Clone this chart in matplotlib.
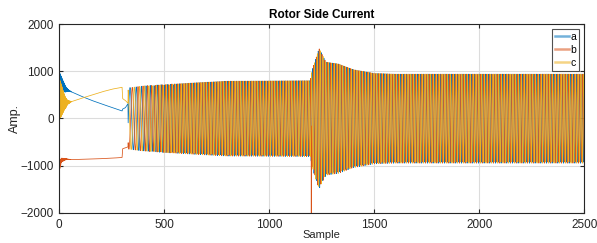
import numpy as np
import matplotlib
matplotlib.use("Agg")
import matplotlib.pyplot as plt
from matplotlib.lines import Line2D

plt.rcParams["font.family"] = ["Liberation Sans", "DejaVu Sans"]

# ---- values ----
N_SAMPLES = 2500
labels = ["a", "b", "c"]
colors = ["#0072BD", "#D95319", "#EDB120"]

# start-up (quasi-DC) part, before the rotor currents begin to oscillate
dc_n = [0, 1, 10, 30, 60, 100, 150, 200, 250, 299, 302, 315, 328]
dc_a = [-1000, 780, 720, 620, 560, 480, 390, 310, 235, 160, 200, 230, 320]
dc_b = [-1050, -1000, -880, -860, -870, -865, -860, -850, -840, -825, -640, -620, -600]
dc_c = [-300, 420, 380, 330, 360, 420, 490, 560, 620, 660, 420, 380, 320]

# high-frequency start-up ripple amplitude
ripple_n = [0, 10, 25, 40, 60]
ripple_a = [200, 160, 80, 20, 0]
ripple_b = [100, 40, 20, 5, 0]
ripple_c = [430, 330, 150, 40, 0]

# oscillating part: envelope (peak amplitude) and period in samples
osc_start = 328
env_n = [328, 400, 500, 650, 800, 1195, 1205, 1237, 1270, 1330, 1400, 1500, 1600, 2500]
env_amp = [650, 690, 720, 760, 795, 805, 1050, 1490, 1200, 1160, 1040, 960, 945, 945]
period_n = [328, 370, 420, 480, 560, 2500]
period_len = [34, 26, 20, 16, 13.5, 13.5]

# fault spike
fault_n = [1200]
fault_b = [-2000]

# ---- build the three phase traces ----
n = np.arange(N_SAMPLES + 1)
theta = np.cumsum(2 * np.pi / np.interp(n, period_n, period_len))
theta -= theta[337]
amp = np.interp(n, env_n, env_amp)
alt = np.where(n % 2 == 0, 1.0, -1.0)

traces = []
for k, (dc, rn) in enumerate([(dc_a, ripple_a), (dc_b, ripple_b), (dc_c, ripple_c)]):
    y = amp * np.cos(theta - 2 * np.pi * k / 3)
    early = n < osc_start
    y[early] = (np.interp(n, dc_n, dc) + alt * np.interp(n, ripple_n, rn))[early]
    traces.append(y)
traces[1][fault_n] = fault_b

# ---- plot ----
fig = plt.figure(figsize=(5.97, 2.43), dpi=100)
ax = fig.add_axes([0.0993, 0.1235, 0.8794, 0.7777])

for y, c in zip(traces, colors):
    ax.plot(n, y, color=c, linewidth=0.55)

ax.set_xlim(0, 2500)
ax.set_ylim(-2000, 2000)
ax.set_xticks([0, 500, 1000, 1500, 2000, 2500])
ax.set_yticks([-2000, -1000, 0, 1000, 2000])
ax.grid(True, color="#dcdcdc", linewidth=0.8)
ax.set_axisbelow(True)
ax.tick_params(direction="in", top=True, right=True, labelsize=8.5,
               colors="#262626", length=3, pad=4)
for s in ax.spines.values():
    s.set_color("#262626")
    s.set_linewidth(0.8)

ax.set_title("Rotor Side Current", fontsize=8.5, fontweight="bold", pad=4)
ax.set_xlabel("Sample", fontsize=8, color="#262626")
ax.set_ylabel("Amp.", fontsize=9, color="#262626")
ax.xaxis.set_label_coords(0.5, -0.092)
ax.yaxis.set_label_coords(-0.073, 0.5)

handles = [Line2D([], [], color=c, linewidth=1.8, alpha=0.55) for c in colors]
leg = ax.legend(handles, labels, loc="upper right", fontsize=7.5, frameon=True,
                fancybox=False, handlelength=1.35, handletextpad=0.2,
                borderpad=0.25, labelspacing=0.3, borderaxespad=0.5)
leg.get_frame().set_edgecolor("#262626")
leg.get_frame().set_linewidth(0.8)

fig.savefig("out.png", dpi=100)
